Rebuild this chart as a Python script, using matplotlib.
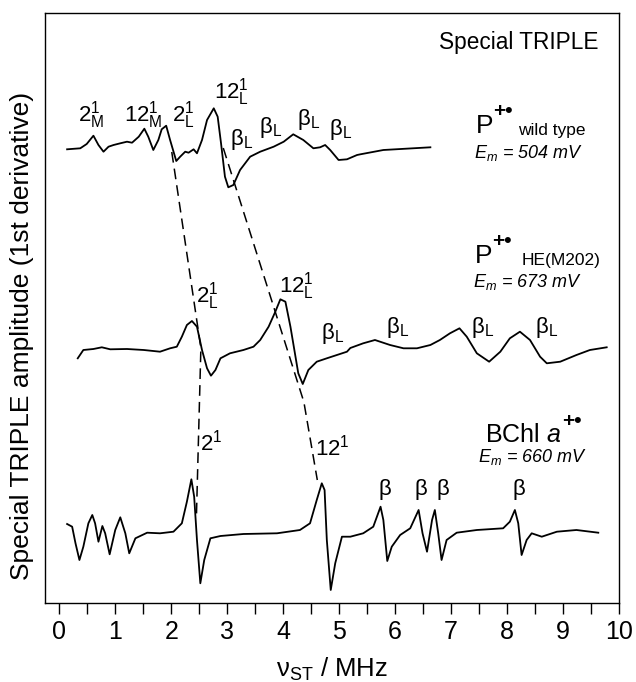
import numpy as np
import matplotlib
matplotlib.use("Agg")
import matplotlib.pyplot as plt

# Fuentes: Liberation Sans se parece a la Helvetica del original
plt.rcParams['font.family'] = ['Liberation Sans', 'DejaVu Sans']
plt.rcParams['mathtext.fontset'] = 'custom'
plt.rcParams['mathtext.rm'] = 'Liberation Sans'
plt.rcParams['mathtext.it'] = 'Liberation Sans:italic'
plt.rcParams['mathtext.bf'] = 'Liberation Sans:bold'

#-------------------------------------------------
# Datos: frecuencia (MHz) y amplitud (u.a.)

# P+. wild type
wt_freq = [0.14, 0.375, 0.49, 0.61, 0.70, 0.79, 0.88, 0.97, 1.09, 1.21, 1.30, 1.42,
           1.52, 1.59, 1.68, 1.77, 1.83, 1.91, 1.98, 2.09, 2.16, 2.25, 2.31, 2.40,
           2.46, 2.55, 2.64, 2.76, 2.83, 2.89, 2.96, 3.02, 3.11, 3.23, 3.41, 3.59,
           3.83, 4.01, 4.18, 4.36, 4.54, 4.66, 4.75, 4.84, 4.99, 5.14, 5.32, 5.38,
           5.79, 6.63]
wt_amp = [-1.3, -0.3, 4, 12.3, 3, -3.7, 1.3, 3, 4.7, 6.3, 5.3, 11.3,
          19.3, 11.3, -2, 8, 18.7, 22.3, 8, -13, -8.7, -3.7, -4.7, -1.3,
          -5.3, 8, 28, 39.7, 31.3, 4.7, -28.7, -39.3, -37, -22, -8.7, -3.7,
          1.3, 6.3, 13.7, 8, -0.3, 0.7, 3, -2, -12, -11.3, -7, -6.3,
          -2, 0.7]

# P+. HE(M202)
he_freq = [0.33, 0.43, 0.61, 0.76, 0.91, 1.21, 1.51, 1.80, 1.98, 2.10, 2.19, 2.28,
           2.37, 2.46, 2.55, 2.64, 2.71, 2.79, 2.88, 3.05, 3.29, 3.47, 3.59, 3.74,
           3.86, 3.95, 4.04, 4.13, 4.18, 4.27, 4.35, 4.45, 4.60, 4.78, 4.96, 5.14,
           5.20, 5.43, 5.64, 5.91, 6.15, 6.39, 6.63, 6.80, 6.98, 7.15, 7.28, 7.46,
           7.68, 7.88, 8.05, 8.23, 8.41, 8.59, 8.71, 8.95, 9.24, 9.48, 9.78]
he_amp = [-9.3, -1, 0, 1.7, -0.3, 0, -1, -2.7, 0.7, 2.3, 12.3, 24,
          28, 22.3, -1, -19.3, -26.7, -21, -9.3, -4.3, -1, 2.3, 9, 22.3,
          37.3, 49.7, 47.3, 22.3, 5.7, -24.3, -35, -21, -12.7, -9.3, -6, -2.7,
          1, 5.7, 9, 4, 0.7, 0.7, 4, 9, 15.7, 20.7, 12.3, -4.3,
          -12.7, -2.7, 10.7, 17.3, 9, -7.7, -14.3, -12.7, -6, -1, 1.7]

# BChl a+.
bchl_freq = [0.14, 0.23, 0.29, 0.36, 0.43, 0.52, 0.59, 0.64, 0.70, 0.77, 0.82, 0.90,
             1.00, 1.09, 1.18, 1.25, 1.36, 1.57, 1.80, 2.04, 2.19, 2.28, 2.36, 2.41,
             2.46, 2.52, 2.59, 2.70, 2.88, 3.29, 3.89, 4.30, 4.48, 4.60, 4.69, 4.74,
             4.78, 4.85, 4.93, 5.05, 5.20, 5.43, 5.61, 5.74, 5.79, 5.86, 5.94, 6.09,
             6.27, 6.42, 6.49, 6.57, 6.66, 6.71, 6.77, 6.83, 6.92, 7.10, 7.46, 7.93,
             8.05, 8.14, 8.20, 8.26, 8.35, 8.44, 8.62, 8.89, 9.24, 9.63]
bchl_amp = [9, 6.3, -10.3, -27, -13.7, 9.7, 18, 9.7, -8.7, 7, -0.3, -21.3,
            3, 15.7, -0.3, -20.3, -5.3, 0.3, -0.3, 1.3, 9.7, 31.3, 53.7, 36.3,
            -7, -50.3, -27, -5.3, -3, -1, -0.3, 3, 9.7, 33, 49.7, 43,
            -7, -57, -30.3, -3.7, -3.7, -0.3, 6.3, 26.3, 13, -28, -13.7, -2,
            4.7, 23, -0.3, -18.7, 13, 23, -0.3, -27, -7, 0.3, 3, 4.7,
            11.3, 23, 9.7, -22, -7, -0.3, -3.7, 1.3, 3, 0.3]

# Lineas discontinuas (2^1 y 12^1) entre los tres espectros
guia_2_freq = [2.01, 2.53, 2.45]
guia_2_nivel = [451, 255, 86]
guia_12_freq = [2.93, 4.37, 4.61]
guia_12_nivel = [455, 201, 123]

# Etiquetas de los picos
wt_pico_freq = [0.56, 1.51, 2.21, 3.07, 3.26, 3.77, 4.45, 5.02]
wt_pico_alto = [32.5, 32.5, 32.5, 56, 9, 20.5, 28.5, 19]
wt_pico_txt = [r'$\mathregular{2_M^1}$', r'$\mathregular{12_M^1}$', r'$\mathregular{2_L^1}$',
               r'$\mathregular{12_L^1}$', r'$\mathregular{\beta_L}$', r'$\mathregular{\beta_L}$',
               r'$\mathregular{\beta_L}$', r'$\mathregular{\beta_L}$']

he_pico_freq = [2.64, 4.24, 4.89, 6.04, 7.57, 8.71]
he_pico_alto = [53, 62.5, 16, 21, 21, 21]
he_pico_txt = [r'$\mathregular{2_L^1}$', r'$\mathregular{12_L^1}$', r'$\mathregular{\beta_L}$',
               r'$\mathregular{\beta_L}$', r'$\mathregular{\beta_L}$', r'$\mathregular{\beta_L}$']

bchl_pico_freq = [2.72, 4.88, 5.82, 6.46, 6.85, 8.21]
bchl_pico_alto = [90, 85.5, 43, 43, 43, 43]
bchl_pico_txt = [r'$\mathregular{2^1}$', r'$\mathregular{12^1}$', r'$\mathregular{\beta}$',
                 r'$\mathregular{\beta}$', r'$\mathregular{\beta}$', r'$\mathregular{\beta}$']

# Desplazamiento vertical de cada espectro
base_wt = 455
base_he = 254
base_bchl = 70

#-------------------------------------------------
fig = plt.figure(figsize=(6.36, 6.82), dpi=100)
ax = fig.add_axes([45 / 636, 79 / 682, 574 / 636, 590 / 682])

ax.plot(wt_freq, np.array(wt_amp) + base_wt, color='black', lw=1.3)
ax.plot(he_freq, np.array(he_amp) + base_he, color='black', lw=1.3)
ax.plot(bchl_freq, np.array(bchl_amp) + base_bchl, color='black', lw=1.3)

ax.plot(guia_2_freq, guia_2_nivel, color='black', lw=1.1, dashes=(7, 4))
ax.plot(guia_12_freq, guia_12_nivel, color='black', lw=1.1, dashes=(7, 4))

for f, h, t in zip(wt_pico_freq, wt_pico_alto, wt_pico_txt):
    ax.text(f, base_wt + h, t, fontsize=16, ha='center', va='center')
for f, h, t in zip(he_pico_freq, he_pico_alto, he_pico_txt):
    ax.text(f, base_he + h, t, fontsize=16, ha='center', va='center')
for f, h, t in zip(bchl_pico_freq, bchl_pico_alto, bchl_pico_txt):
    ax.text(f, base_bchl + h, t, fontsize=16, ha='center', va='center')

# Nombres de las especies
ax.text(7.45, base_wt + 15, 'P', fontsize=19, va='baseline')
ax.text(7.75, base_wt + 31, '+•', fontsize=15, fontweight='bold', va='baseline')
ax.text(8.20, base_wt + 13, 'wild type', fontsize=12.5, va='baseline')
ax.text(7.41, base_wt - 10, r'$E_m$ = 504 mV', fontsize=13, style='italic', va='baseline')

ax.text(7.43, base_he + 86, 'P', fontsize=19, va='baseline')
ax.text(7.73, base_he + 102, '+•', fontsize=15, fontweight='bold', va='baseline')
ax.text(8.26, base_he + 84, 'HE(M202)', fontsize=12.5, va='baseline')
ax.text(7.39, base_he + 62, r'$E_m$ = 673 mV', fontsize=13, style='italic', va='baseline')

ax.text(7.61, base_bchl + 91, r'BChl $a$', fontsize=18, va='baseline')
ax.text(8.98, base_bchl + 106, '+•', fontsize=15, fontweight='bold', va='baseline')
ax.text(7.48, base_bchl + 71, r'$E_m$ = 660 mV', fontsize=13, style='italic', va='baseline')

ax.text(9.63, 561, 'Special TRIPLE', fontsize=16.3, ha='right', va='center')

#-------------------------------------------------
ax.set_xlim(-0.255, 10)
ax.set_ylim(0, 590)
ax.set_xticks(np.arange(0, 11, 1))
ax.set_xticks(np.arange(0.5, 10, 1), minor=True)
ax.set_yticks([])
ax.tick_params(axis='x', which='both', direction='out', length=7.7, width=1.0,
               pad=4.5, labelsize=18)
for s in ax.spines.values():
    s.set_linewidth(1.0)

fig.text(332 / 636, 1 - 677 / 682, r'ν$_{\mathregular{ST}}$ / MHz', fontsize=18.5,
         ha='center', va='baseline')
fig.text(22 / 636, 1 - 336 / 682, 'Special TRIPLE amplitude (1st derivative)',
         fontsize=19, rotation=90, ha='center', va='center')

fig.savefig('out.png', dpi=100)
